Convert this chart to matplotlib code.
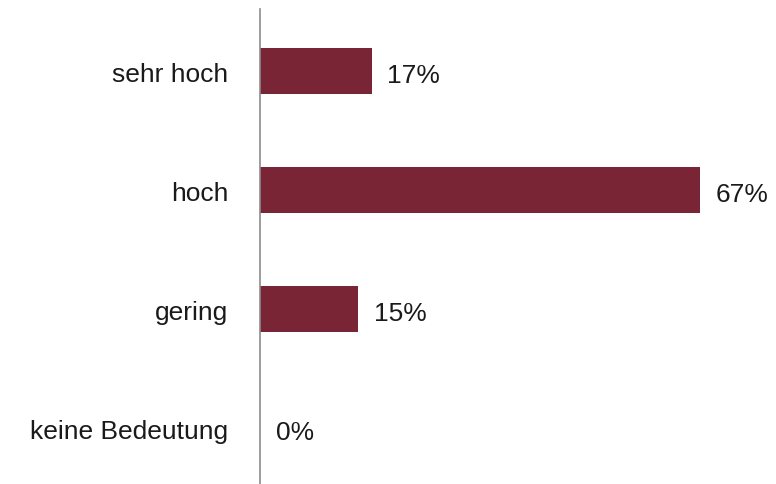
import matplotlib
matplotlib.use('Agg')
import matplotlib.pyplot as plt

categories = ["sehr hoch", "hoch", "gering", "keine Bedeutung"]
values = [17, 67, 15, 0]
value_labels = ["17%", "67%", "15%", "0%"]

bar_color = "#7a2536"
plt.rcParams['font.family'] = ['Liberation Sans Narrow', 'Liberation Sans', 'DejaVu Sans']

fig = plt.figure(figsize=(7.76, 4.85), dpi=100)
ax = fig.add_axes([0.335, 0.0, 0.66, 0.979])

pos = list(range(len(categories)))
ax.barh(pos, values, height=0.39, color=bar_color)
ax.set_ylim(3.47, -0.52)
ax.set_xlim(0, 78)

for p, v, lab in zip(pos, values, value_labels):
    ax.text(v + 2.4, p + 0.03, lab, va='center', ha='left', fontsize=19, color='#1a1a1a')

ax.set_yticks(pos)
ax.set_yticklabels(categories, fontsize=19, color='#1a1a1a')
for t in ax.get_yticklabels():
    t.set_y(t.get_position()[1])
ax.tick_params(axis='y', length=0, pad=23)
ax.set_xticks([])
for s in ['top', 'right', 'bottom']:
    ax.spines[s].set_visible(False)
ax.spines['left'].set_color('#8c8c8c')
ax.spines['left'].set_linewidth(1.2)

fig.savefig("out.png", dpi=100)
